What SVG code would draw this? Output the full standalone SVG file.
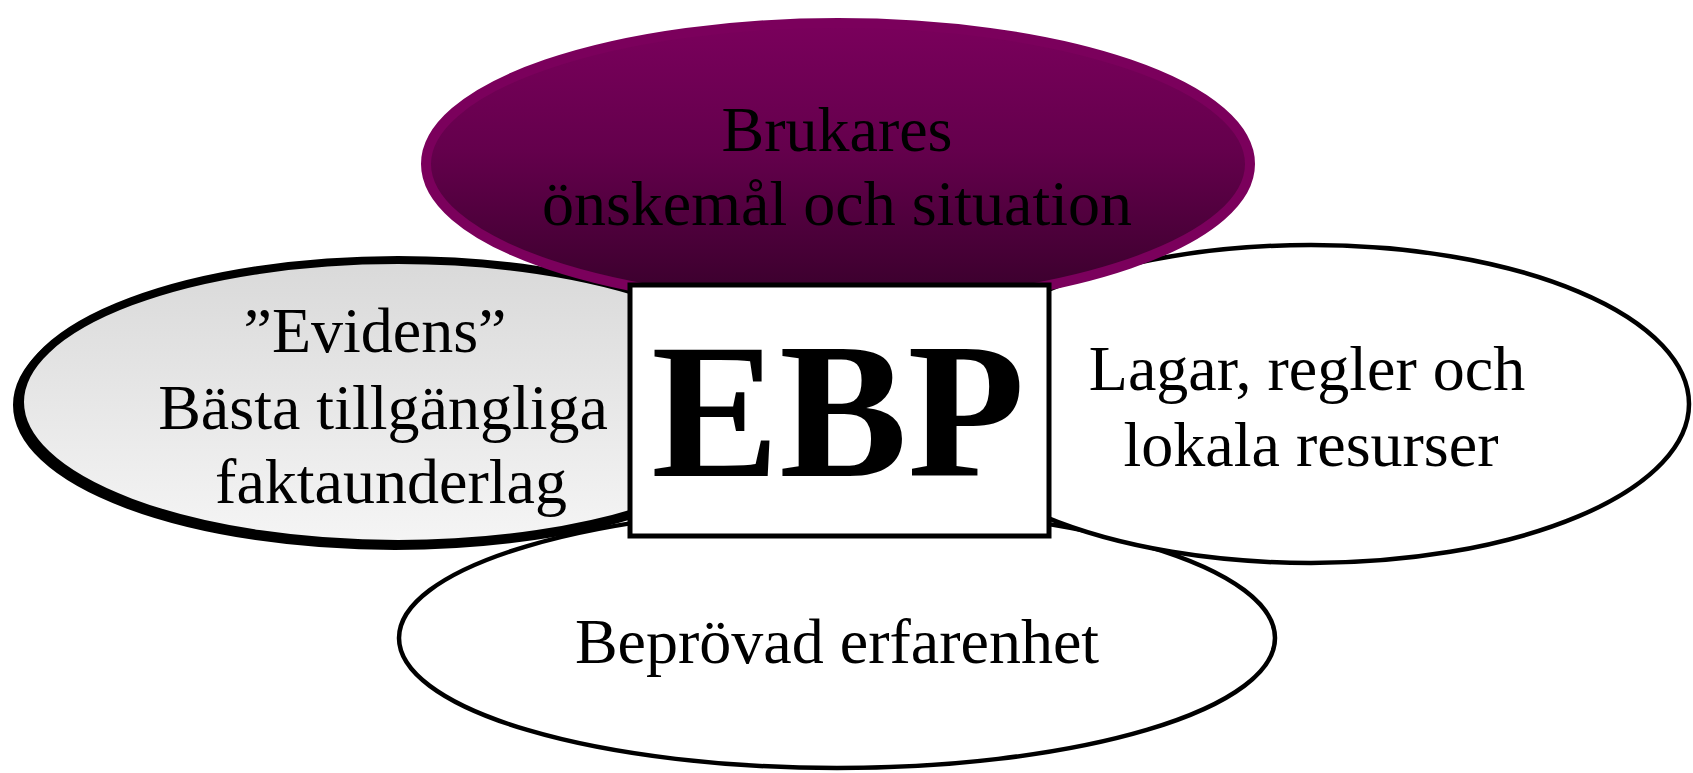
<svg xmlns="http://www.w3.org/2000/svg" width="1693" height="773" viewBox="0 0 1693 773">
  <defs>
    <linearGradient id="gPurple" x1="0" y1="0" x2="0" y2="1">
      <stop offset="0" stop-color="#7a005c"/>
      <stop offset="0.45" stop-color="#64004c"/>
      <stop offset="1" stop-color="#37002a"/>
    </linearGradient>
    <linearGradient id="gGray" x1="0" y1="0" x2="0" y2="1">
      <stop offset="0" stop-color="#d9d9d9"/>
      <stop offset="1" stop-color="#f5f5f5"/>
    </linearGradient>
  </defs>
  <style>
    .lbl { font-family: "Liberation Serif", "Times New Roman", serif; font-size: 64px; fill: #000; text-anchor: middle; }
    .ebp { font-family: "Liberation Serif", "Times New Roman", serif; font-size: 192px; font-weight: bold; fill: #000; text-anchor: middle; }
    .oval { fill: #ffffff; stroke: #000; stroke-width: 4.5; }
  </style>
  <rect width="1693" height="773" fill="#ffffff"/>
  <g id="connectors"/>
  <g id="node-bottom">
    <ellipse class="oval" cx="837" cy="638" rx="438" ry="130"/>
    <text class="lbl" x="837" y="663">Beprövad erfarenhet</text>
  </g>
  <g id="node-left">
    <ellipse cx="395" cy="405" rx="378" ry="141" fill="#000" stroke="#000" stroke-width="8"/>
    <ellipse cx="398" cy="402" rx="378" ry="142" fill="url(#gGray)" stroke="#000" stroke-width="8"/>
    <text class="lbl" x="375" y="352">”Evidens”</text>
    <text class="lbl" x="383" y="429">Bästa tillgängliga</text>
    <text class="lbl" x="391" y="503">faktaunderlag</text>
  </g>
  <g id="node-right">
    <ellipse class="oval" cx="1311" cy="404" rx="378" ry="159"/>
    <text class="lbl" x="1307" y="390">Lagar, regler och</text>
    <text class="lbl" x="1311" y="466">lokala resurser</text>
  </g>
  <g id="node-top">
    <ellipse cx="838" cy="164" rx="412" ry="141" fill="url(#gPurple)" stroke="#7b005c" stroke-width="10"/>
    <text class="lbl" x="837" y="151">Brukares</text>
    <text class="lbl" x="837" y="225">önskemål och situation</text>
  </g>
  <g id="node-ebp">
    <rect x="630" y="285" width="419" height="251" fill="#ffffff" stroke="#000" stroke-width="5"/>
    <text class="ebp" x="838" y="476">EBP</text>
  </g>
</svg>
